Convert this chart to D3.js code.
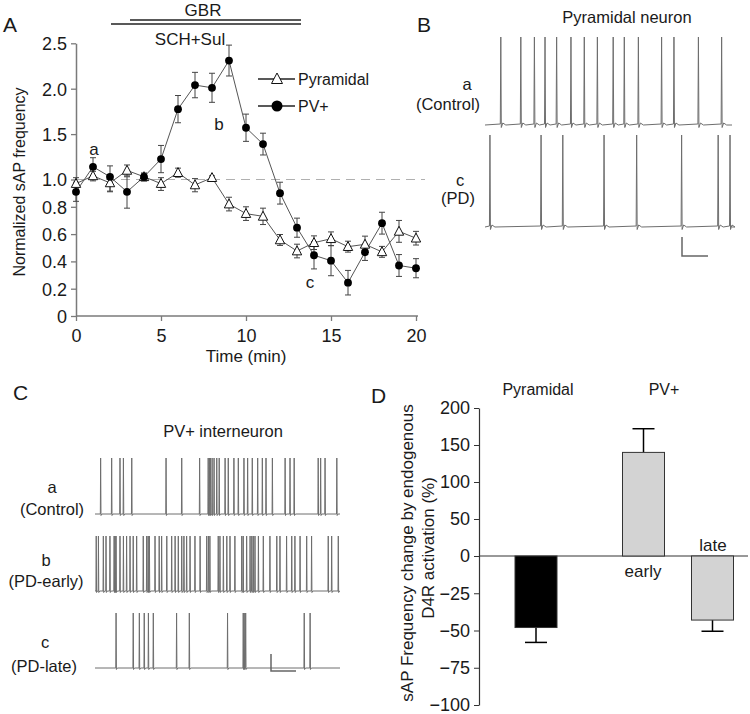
<!DOCTYPE html>
<html><head><meta charset="utf-8">
<script src="https://cdn.jsdelivr.net/npm/d3@7"></script>
<style>body{margin:0;background:#fff}svg{display:block}text{font-family:"Liberation Sans",Arial,sans-serif;fill:#1a1a1a}</style>
</head><body><svg id="c" width="750" height="714"></svg>
<script>
// ---------- Panel A data ----------
const minutes = [0,1,2,3,4,5,6,7,8,9,10,11,12,13,14,15,16,17,18,19,20];
const pvMean  = [0.91,1.14,1.03,0.91,1.03,1.225,1.775,2.04,2.01,2.31,1.57,1.39,0.90,0.647,0.445,0.405,0.244,0.467,0.68,0.37,0.35];
const pvErr   = [0.07,0.10,0.12,0.12,0.04,0.15,0.15,0.14,0.16,0.17,0.15,0.12,0.08,0.07,0.10,0.11,0.09,0.06,0.08,0.08,0.07];
const pyrMean = [0.97,1.04,0.975,1.10,1.03,0.97,1.075,0.96,1.02,0.82,0.75,0.73,0.557,0.476,0.537,0.566,0.508,0.525,0.47,0.62,0.57];
const pyrErr  = [0.05,0.05,0.06,0.06,0.04,0.05,0.05,0.05,0.02,0.05,0.05,0.06,0.04,0.05,0.05,0.05,0.04,0.06,0.04,0.08,0.05];
const yTicksA = [0,0.2,0.4,0.6,0.8,1.0,1.5,2.0,2.5];
const xTicksA = [0,5,10,15,20];
const seriesNames = ["Pyramidal","PV+"];
const drugs = [{name:"GBR", start:3, end:13}, {name:"SCH+Sul", start:2, end:13}];

// ---------- Panel B / C spike times (s, 10 s sweep) ----------
const pyrControlSpikes = [0.64,1.45,2.0,2.43,2.9,3.48,4.02,4.55,5.19,5.64,6.21,7.15,7.65,8.64,9.58];
const pyrPDSpikes      = [0.2,2.27,3.15,4.82,6.14,7.96,9.44,9.92];
const pvControlSpikes  = [0.23,0.68,1.02,1.16,1.5,2.9,3.54,4.27,4.62,4.67,4.71,4.78,4.86,4.97,5.07,5.31,5.44,5.67,5.85,6.08,6.23,6.42,6.64,6.83,6.98,7.24,7.76,7.96,8.13,9.11,9.21,9.39,9.87];
const pvEarlySpikes    = [0.05,0.14,0.34,0.45,0.61,0.78,0.82,0.86,1.02,1.16,1.29,1.43,1.56,1.7,1.97,2.11,2.17,2.22,2.45,2.62,2.72,2.93,3.13,3.27,3.4,3.54,3.63,3.74,3.88,4.08,4.29,4.56,4.63,4.69,5.03,5.1,5.24,5.38,5.51,5.71,5.99,6.05,6.19,6.33,6.4,6.46,6.53,6.67,6.87,7.14,7.42,7.55,7.82,8.03,8.16,8.37,8.64,8.84,9.52,9.66,9.93];
const pvLateSpikes     = [0.86,1.56,1.81,2.01,2.18,2.38,3.33,3.85,5.41,6.05,6.09,6.15,8.54,8.78];

// ---------- Panel D data ----------
const dGroups = ["Pyramidal","PV+"];
const dBars   = ["Pyramidal","early","late"];
const dValues = [-48,140,-43];
const dErrors = [10,32,7.5];
const dColors = ["#000000","#d3d3d3","#d3d3d3"];
const yTicksD = [200,150,100,50,0,-25,-50,-75,-100];

const svg = d3.select("#c");
svg.append("rect").attr("width",750).attr("height",714).attr("fill","#fff");
const axisCol = "#7a7a7a";
const FS = 16.5;

// panel letters
[["A",3,32],["B",417,32],["C",13,400],["D",371,403]].forEach(([t,x,y])=>
  svg.append("text").attr("x",x).attr("y",y).attr("font-size",21).text(t));

// ===== Panel A =====
const xA = d3.scaleLinear().domain([0,20]).range([76,416]);
const yA = d3.scaleLinear().domain([0,1,2.5]).range([316,179.5,43.3]);
const gA = svg.append("g");

gA.append("line").attr("x1",xA(0)).attr("x2",425).attr("y1",yA(1)).attr("y2",yA(1))
  .attr("stroke","#b0b0b0").attr("stroke-width",1.2).attr("stroke-dasharray","9,6");

const yAxisA = d3.axisLeft(yA).tickValues(yTicksA).tickSize(5).tickSizeOuter(0)
  .tickFormat(d=> d===0 ? "0" : d3.format(".1f")(d));
const ga = gA.append("g").attr("transform",`translate(${xA(0)},0)`).call(yAxisA);
const xAxisA = d3.axisBottom(xA).tickValues(xTicksA).tickSize(5).tickSizeOuter(0);
const gx = gA.append("g").attr("transform",`translate(0,${yA(0)})`).call(xAxisA);
gx.select(".domain").attr("d",`M${xA(0)},0H418`);
[ga,gx].forEach(g=>{
  g.selectAll(".domain").attr("stroke",axisCol).attr("stroke-width",1.5);
  g.selectAll(".tick line").attr("stroke",axisCol).attr("stroke-width",1.3);
  g.selectAll(".tick text").attr("font-size",18).attr("fill","#1a1a1a")
   .attr("font-family","Liberation Sans, Arial, sans-serif");
});
ga.selectAll(".tick text").attr("x",-9).attr("dy","0.36em");
gx.selectAll(".tick text").attr("dy","1.0em");

gA.append("text").attr("x",xA(10)).attr("y",362).attr("text-anchor","middle").attr("font-size",17).text("Time (min)");
gA.append("text").attr("transform","translate(25,182) rotate(-90)").attr("text-anchor","middle")
  .attr("font-size",16).text("Normalized sAP frequency");

// drug bars
gA.append("line").attr("x1",130).attr("x2",301).attr("y1",20).attr("y2",20).attr("stroke","#222").attr("stroke-width",1.3);
gA.append("line").attr("x1",111).attr("x2",301).attr("y1",24).attr("y2",24).attr("stroke","#222").attr("stroke-width",1.3);
gA.append("text").attr("x",203).attr("y",16).attr("text-anchor","middle").attr("font-size",17).text(drugs[0].name);
gA.append("text").attr("x",190).attr("y",45).attr("text-anchor","middle").attr("font-size",17).text(drugs[1].name);

const lineGen = d3.line().x((d,i)=>xA(minutes[i])).y(d=>yA(d));
gA.append("path").attr("d",lineGen(pyrMean)).attr("fill","none").attr("stroke","#555").attr("stroke-width",1);
gA.append("path").attr("d",lineGen(pvMean)).attr("fill","none").attr("stroke","#555").attr("stroke-width",1);

function errBars(mean,err){
  const g = gA.append("g").attr("stroke","#444").attr("stroke-width",1);
  mean.forEach((m,i)=>{
    const x = xA(minutes[i]);
    g.append("line").attr("x1",x).attr("x2",x).attr("y1",yA(m-err[i])).attr("y2",yA(m+err[i]));
    g.append("line").attr("x1",x-3).attr("x2",x+3).attr("y1",yA(m-err[i])).attr("y2",yA(m-err[i]));
    g.append("line").attr("x1",x-3).attr("x2",x+3).attr("y1",yA(m+err[i])).attr("y2",yA(m+err[i]));
  });
}
errBars(pyrMean,pyrErr);
errBars(pvMean,pvErr);

const tri = (cx,cy,s)=>`M${cx},${cy-s*0.6}L${cx+s*0.55},${cy+s*0.45}L${cx-s*0.55},${cy+s*0.45}Z`;
gA.append("g").selectAll("path").data(pyrMean).join("path")
  .attr("d",(d,i)=>tri(xA(minutes[i]),yA(d),8.5)).attr("fill","#fff").attr("stroke","#111").attr("stroke-width",1);
gA.append("g").selectAll("circle").data(pvMean).join("circle")
  .attr("cx",(d,i)=>xA(minutes[i])).attr("cy",d=>yA(d)).attr("r",3.9).attr("fill","#000");

gA.append("text").attr("x",xA(1)+1).attr("y",155).attr("text-anchor","middle").attr("font-size",17).text("a");
gA.append("text").attr("x",219).attr("y",130).attr("text-anchor","middle").attr("font-size",17).text("b");
gA.append("text").attr("x",310).attr("y",288).attr("text-anchor","middle").attr("font-size",17).text("c");

const leg = gA.append("g");
leg.append("line").attr("x1",258).attr("x2",295).attr("y1",79).attr("y2",79).attr("stroke","#222").attr("stroke-width",1.3);
leg.append("path").attr("d",tri(277,79,10)).attr("fill","#fff").attr("stroke","#111");
leg.append("text").attr("x",298).attr("y",85).attr("font-size",16).text(seriesNames[0]);
leg.append("line").attr("x1",258).attr("x2",295).attr("y1",106).attr("y2",106).attr("stroke","#222").attr("stroke-width",1.3);
leg.append("circle").attr("cx",277).attr("cy",106).attr("r",5.5).attr("fill","#000");
leg.append("text").attr("x",298).attr("y",112).attr("font-size",16).text(seriesNames[1]);

// ===== traces =====
function trace(spikes,x0,x1,base,top,dense){
  const x = d3.scaleLinear().domain([0,10]).range([x0,x1]);
  let p = `M${x0},${base}`;
  spikes.forEach(t=>{
    const sx = x(t);
    if(dense){
      p += `L${sx-0.3},${base}L${sx},${top}L${sx+0.35},${base+1.5}L${sx+1.3},${base}`;
    } else {
      p += `L${sx-0.5},${base-1}L${sx},${top}L${sx+0.5},${base+2.5}L${sx+2},${base-2}L${sx+5},${base}`;
    }
  });
  p += `L${x1},${base}`;
  svg.append("path").attr("d",p).attr("fill","none").attr("stroke","#6e6e6e").attr("stroke-width",1);
}
function twoLine(cx,y1,t1,cx2,y2,t2){
  svg.append("text").attr("x",cx).attr("y",y1).attr("text-anchor","middle").attr("font-size",FS).text(t1);
  svg.append("text").attr("x",cx2).attr("y",y2).attr("text-anchor","middle").attr("font-size",FS).text(t2);
}
// Panel B
svg.append("text").attr("x",627).attr("y",23).attr("text-anchor","middle").attr("font-size",FS).text("Pyramidal neuron");
trace(pyrControlSpikes,485,732,125,37,false);
trace(pyrPDSpikes,485,732,227,135,false);
twoLine(467,90,"a",448,110,"(Control)");
twoLine(460,186,"c",458,204,"(PD)");
svg.append("path").attr("d","M682,237V256H708").attr("fill","none").attr("stroke","#666").attr("stroke-width",1.5);

// Panel C
svg.append("text").attr("x",223).attr("y",437).attr("text-anchor","middle").attr("font-size",FS).text("PV+ interneuron");
trace(pvControlSpikes,95,340,514,458,true);
trace(pvEarlySpikes,95,340,591,536,true);
trace(pvLateSpikes,95,340,668,613,true);
twoLine(52,493,"a",52,515,"(Control)");
twoLine(46,566,"b",46,587,"(PD-early)");
twoLine(45,648,"c",44,672,"(PD-late)");
svg.append("path").attr("d","M271,654V671H296").attr("fill","none").attr("stroke","#666").attr("stroke-width",1.5);

// ===== Panel D =====
const yD = d3.scaleLinear().domain([-100,0,200]).range([705,556,408]);
const barX = {Pyramidal:515, early:622.5, late:691.5};
const bw = 42;
const gD = svg.append("g");
gD.append("line").attr("x1",479).attr("x2",748).attr("y1",yD(0)).attr("y2",yD(0)).attr("stroke","#333").attr("stroke-width",1);
const yAxisD = d3.axisLeft(yD).tickValues(yTicksD).tickSize(5).tickSizeOuter(0).tickFormat(d=> d<0 ? "\u2212"+Math.abs(d) : d);
const gyD = gD.append("g").attr("transform","translate(479,0)").call(yAxisD);
gyD.selectAll(".domain").attr("stroke","#333").attr("stroke-width",1.2);
gyD.selectAll(".tick line").attr("stroke","#333");
gyD.selectAll(".tick text").attr("font-size",18).attr("fill","#1a1a1a").attr("x",-9)
  .attr("font-family","Liberation Sans, Arial, sans-serif");

dBars.forEach((b,i)=>{
  const x = barX[b], v = dValues[i];
  const y0 = yD(Math.max(0,v)), y1 = yD(Math.min(0,v));
  const cx = x + bw/2;
  const tip = v>=0 ? v + dErrors[i] : v - dErrors[i];
  gD.append("line").attr("x1",cx).attr("x2",cx).attr("y1",yD(v)).attr("y2",yD(tip)).attr("stroke","#000").attr("stroke-width",1.5);
  gD.append("line").attr("x1",cx-11).attr("x2",cx+11).attr("y1",yD(tip)).attr("y2",yD(tip)).attr("stroke","#000").attr("stroke-width",1.5);
  gD.append("rect").attr("x",x).attr("y",y0).attr("width",bw).attr("height",y1-y0)
    .attr("fill",dColors[i]).attr("stroke","#333").attr("stroke-width",1);
});
gD.append("text").attr("x",538).attr("y",395).attr("text-anchor","middle").attr("font-size",16).text(dGroups[0]);
gD.append("text").attr("x",664).attr("y",395).attr("text-anchor","middle").attr("font-size",16).text(dGroups[1]);
gD.append("text").attr("x",643).attr("y",577).attr("text-anchor","middle").attr("font-size",17).text(dBars[1]);
gD.append("text").attr("x",713).attr("y",551).attr("text-anchor","middle").attr("font-size",17).text(dBars[2]);
gD.append("text").attr("transform","translate(413,553) rotate(-90)").attr("text-anchor","middle").attr("font-size",17).text("sAP Frequency change by endogenous");
gD.append("text").attr("transform","translate(434,548) rotate(-90)").attr("text-anchor","middle").attr("font-size",17).text("D4R activation (%)");
</script></body></html>
